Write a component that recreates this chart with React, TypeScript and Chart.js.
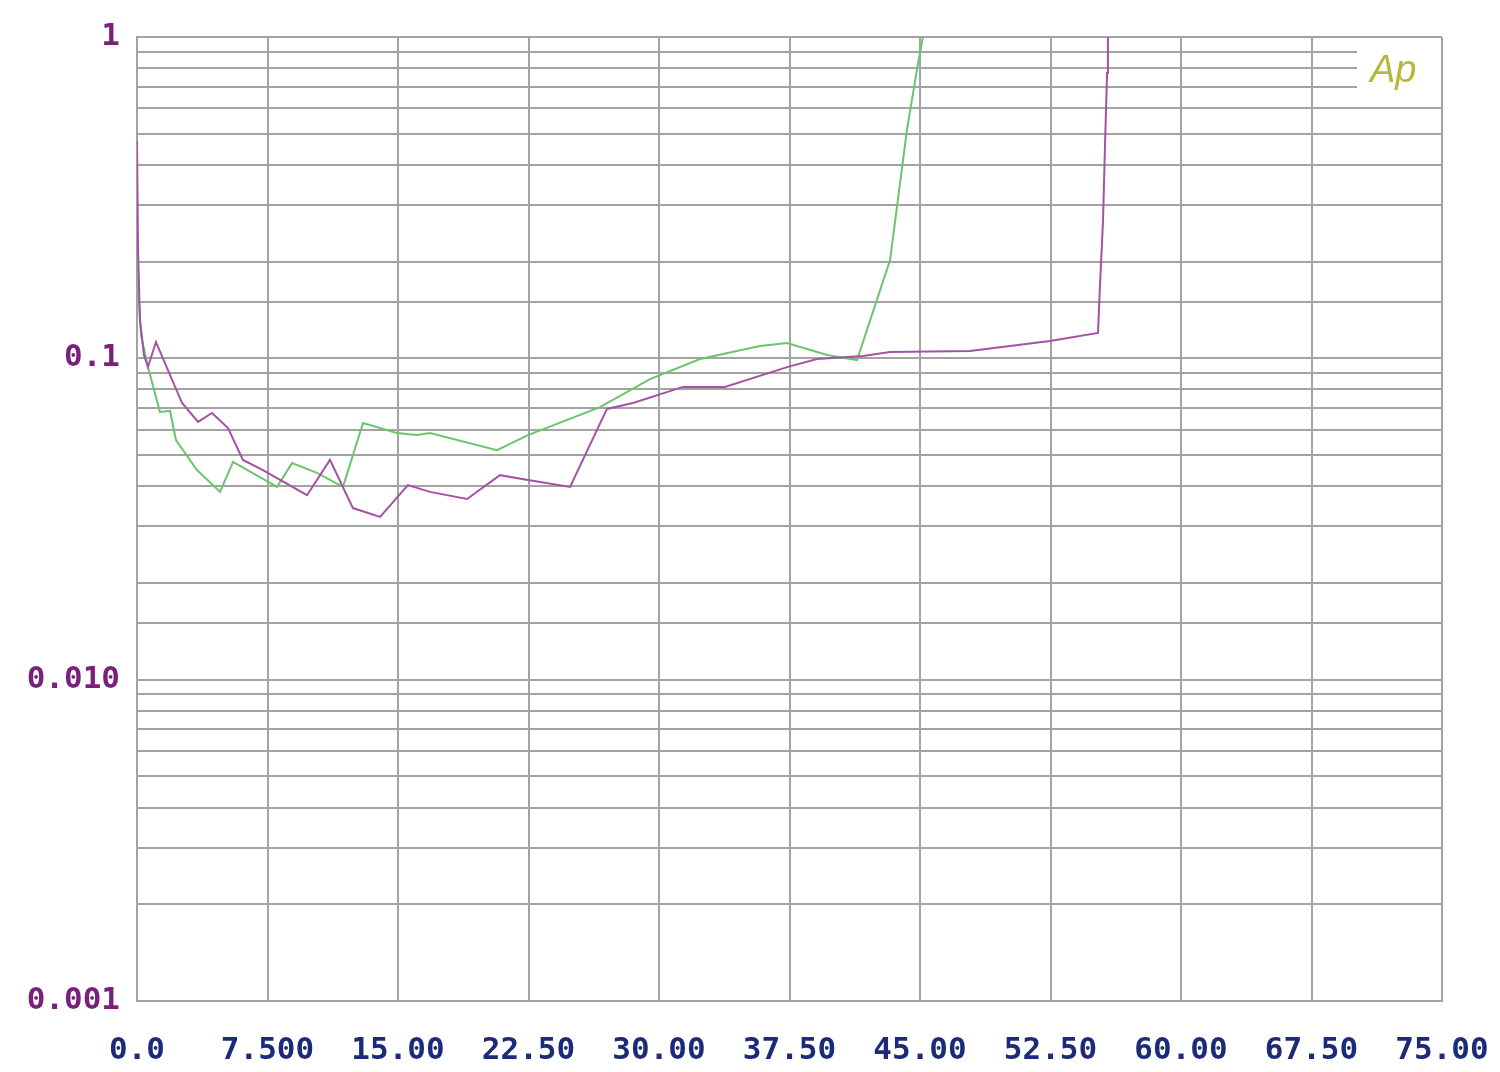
import React, { useEffect, useRef } from "react";
import { Chart, registerables } from "chart.js";

Chart.register(...registerables);

const xTickLabels = ["0.0", "7.500", "15.00", "22.50", "30.00", "37.50", "45.00", "52.50", "60.00", "67.50", "75.00"];
const yTickValues = [0.001, 0.01, 0.1, 1];
const yTickLabels = ["0.001", "0.010", "0.1", "1"];

const magentaX = [0, 0.06, 0.17, 0.4, 0.63, 1.09, 2.59, 3.51, 4.31, 5.23, 6.09, 7.24, 9.77, 11.09, 12.41, 13.97, 15.57, 16.84, 18.97, 20.86, 22.47, 24.89, 27.01, 28.51, 31.38, 33.79, 37.36, 39.08, 41.72, 43.28, 47.87, 52.47, 55.23, 55.34, 55.52, 55.63, 55.75, 55.8];
const magentaY = [0.474, 0.217, 0.1316, 0.1024, 0.0939, 0.1124, 0.0726, 0.0634, 0.0676, 0.0607, 0.0483, 0.0449, 0.0375, 0.0483, 0.0342, 0.0321, 0.0403, 0.0384, 0.0365, 0.0433, 0.0418, 0.0398, 0.0696, 0.0726, 0.0815, 0.0815, 0.0939, 0.0995, 0.1017, 0.1047, 0.1054, 0.1132, 0.1199, 0.1667, 0.2695, 0.455, 0.773, 1.0];

const greenX = [0, 0.11, 0.23, 0.63, 1.32, 1.9, 2.24, 3.45, 4.77, 5.52, 8.05, 8.91, 10.34, 11.84, 12.99, 14.94, 16.09, 16.84, 20.69, 22.47, 26.61, 29.48, 32.36, 35.8, 37.36, 39.66, 41.38, 43.28, 44.25, 44.89, 45.17];
const greenY = [0.2385, 0.152, 0.118, 0.0939, 0.0681, 0.0686, 0.0557, 0.0449, 0.0384, 0.0476, 0.0398, 0.0472, 0.044, 0.0398, 0.0629, 0.0586, 0.0577, 0.0586, 0.0518, 0.0577, 0.0705, 0.0862, 0.0995, 0.1092, 0.1116, 0.1024, 0.0988, 0.2023, 0.5137, 0.83, 1.0];

const GRID = "#a3a3a3";
const FONT_FAMILY = '"DejaVu Sans Mono", "Liberation Mono", monospace';

const logoPlugin = {
  id: "apLogo",
  beforeDatasetsDraw(chart: any) {
    const { ctx, chartArea } = chart;
    ctx.save();
    ctx.fillStyle = "#ffffff";
    ctx.fillRect(1357, chartArea.top + 1.5, chartArea.right - 1357 + 2, 105 - chartArea.top - 1.5);
    ctx.strokeStyle = GRID;
    ctx.lineWidth = 2;
    ctx.beginPath();
    ctx.moveTo(chartArea.right, chartArea.top);
    ctx.lineTo(chartArea.right, 108);
    ctx.stroke();
    ctx.fillStyle = "#b7b83a";
    ctx.font = 'italic 38px "Liberation Sans", "DejaVu Sans", sans-serif';
    ctx.textBaseline = "alphabetic";
    ctx.textAlign = "left";
    ctx.fillText("Ap", 1370, 82);
    ctx.restore();
  },
};

export default function App() {
  const ref = useRef<HTMLCanvasElement | null>(null);
  useEffect(() => {
    if (!ref.current) return;
    const chart = new Chart(ref.current, {
      type: "line",
      data: {
        datasets: [
          {
            label: "magenta",
            data: magentaX.map((x, i) => ({ x, y: magentaY[i] })),
            borderColor: "#a452a6",
            borderWidth: 2,
            pointRadius: 0,
            tension: 0,
            fill: false,
          },
          {
            label: "green",
            data: greenX.map((x, i) => ({ x, y: greenY[i] })),
            borderColor: "#6cc46c",
            borderWidth: 2,
            pointRadius: 0,
            tension: 0,
            fill: false,
          },
        ],
      },
      options: {
        animation: false,
        responsive: false,
        maintainAspectRatio: false,
        layout: { padding: { top: 37, right: 58, left: 0, bottom: 0 } },
        plugins: { legend: { display: false }, tooltip: { enabled: false } },
        scales: {
          x: {
            type: "linear",
            min: 0,
            max: 75,
            afterFit(scale: any) {
              scale.height = 71;
              scale.paddingLeft = 0;
              scale.paddingRight = 0;
            },
            afterBuildTicks(scale: any) {
              scale.ticks = xTickLabels.map((_, i) => ({ value: i * 7.5 }));
            },
            ticks: {
              autoSkip: false,
              maxRotation: 0,
              padding: 31,
              color: "#1c2a7a",
              font: { family: FONT_FAMILY, size: 31, weight: "bold" },
              callback: (_v: any, i: number) => xTickLabels[i],
            },
            grid: { color: GRID, lineWidth: 2, drawTicks: false },
            border: { display: true, color: GRID, width: 2 },
          },
          y: {
            type: "logarithmic",
            min: 0.001,
            max: 1,
            afterFit(scale: any) {
              scale.width = 137;
              scale.paddingTop = 0;
              scale.paddingBottom = 0;
            },
            ticks: {
              autoSkip: false,
              padding: 17,
              color: "#7a1f7c",
              font: { family: FONT_FAMILY, size: 31, weight: "bold" },
              callback: (v: any) => {
                const idx = yTickValues.findIndex((t) => Math.abs(Math.log10(Number(v)) - Math.log10(t)) < 1e-6);
                return idx >= 0 ? yTickLabels[idx] : "";
              },
            },
            grid: { color: GRID, lineWidth: 2, drawTicks: false },
            border: { display: true, color: GRID, width: 2 },
          },
        },
      },
      plugins: [logoPlugin],
    } as any);
    return () => chart.destroy();
  }, []);
  return (
    <div style={{ position: "absolute", left: 0, top: 0, width: 1500, height: 1072, background: "#fff" }}>
      <canvas ref={ref} width={1500} height={1072} />
    </div>
  );
}
